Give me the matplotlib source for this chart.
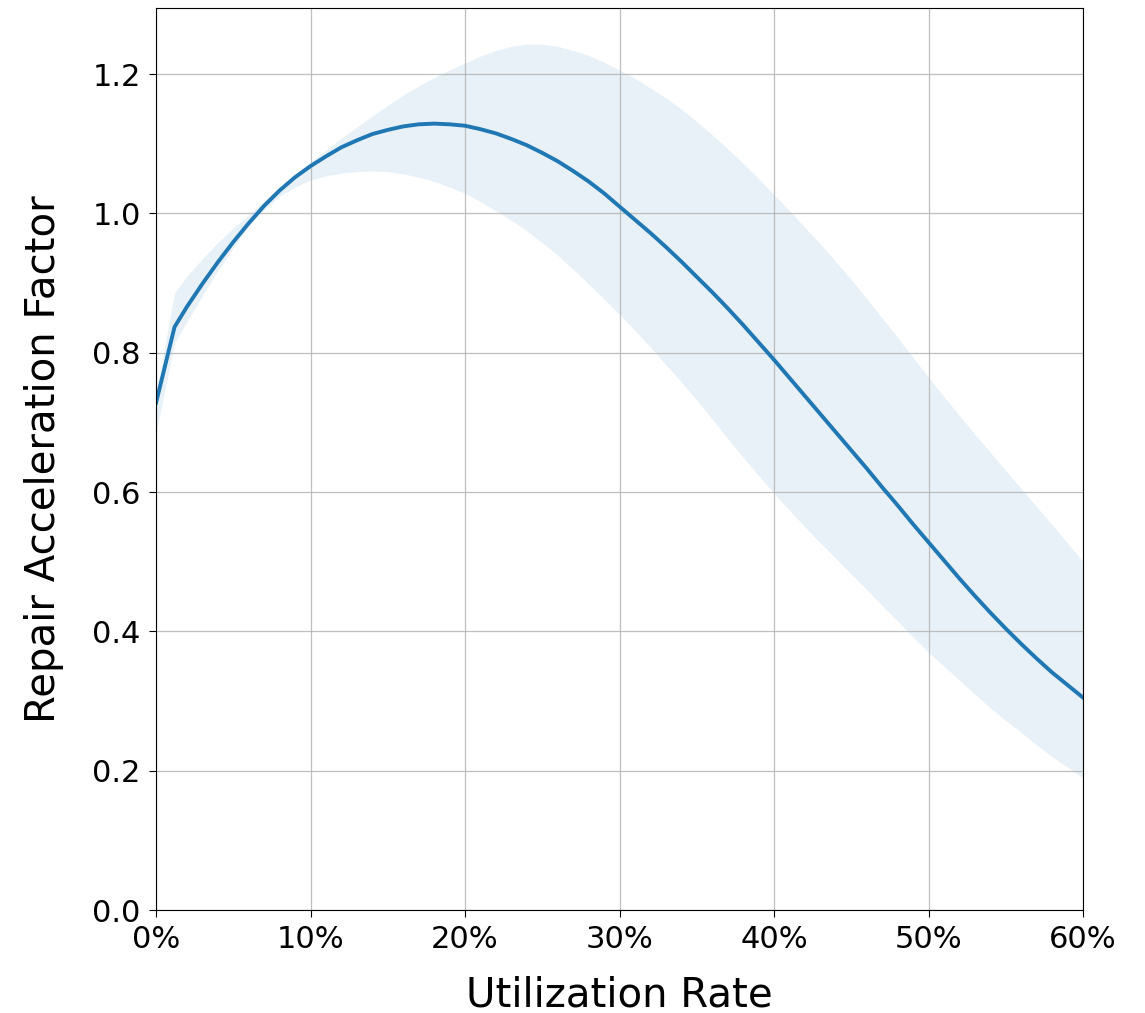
import matplotlib
matplotlib.use("Agg")
import matplotlib.pyplot as plt
from matplotlib.ticker import PercentFormatter

# utilization rate (fraction) and values
util = [0.0, 0.012, 0.02, 0.03, 0.04, 0.05, 0.06, 0.07, 0.08, 0.09, 0.10,
        0.11, 0.12, 0.13, 0.14, 0.15, 0.16, 0.17, 0.18, 0.19, 0.20,
        0.21, 0.22, 0.23, 0.24, 0.25, 0.26, 0.27, 0.28, 0.29, 0.30,
        0.31, 0.32, 0.33, 0.34, 0.35, 0.36, 0.37, 0.38, 0.39, 0.40,
        0.41, 0.42, 0.43, 0.44, 0.45, 0.46, 0.47, 0.48, 0.49, 0.50,
        0.51, 0.52, 0.53, 0.54, 0.55, 0.56, 0.57, 0.58, 0.59, 0.60]

factor = [0.728, 0.837, 0.866, 0.899, 0.930, 0.959, 0.986, 1.011, 1.033, 1.052, 1.068,
          1.082, 1.095, 1.105, 1.114, 1.120, 1.125, 1.128, 1.129, 1.128, 1.126,
          1.121, 1.115, 1.107, 1.098, 1.087, 1.075, 1.061, 1.046, 1.029, 1.010,
          0.991, 0.972, 0.952, 0.931, 0.909, 0.887, 0.864, 0.840, 0.815, 0.790,
          0.764, 0.738, 0.712, 0.686, 0.660, 0.634, 0.607, 0.581, 0.554, 0.528,
          0.502, 0.476, 0.451, 0.427, 0.404, 0.382, 0.361, 0.341, 0.323, 0.305]

upper = [0.740, 0.886, 0.910, 0.935, 0.958, 0.979, 0.998, 1.018, 1.037, 1.056, 1.074,
         1.091, 1.108, 1.124, 1.140, 1.155, 1.170, 1.183, 1.195, 1.206, 1.216,
         1.226, 1.234, 1.240, 1.243, 1.243, 1.240, 1.234, 1.227, 1.217, 1.206,
         1.194, 1.180, 1.166, 1.150, 1.132, 1.113, 1.093, 1.072, 1.050, 1.027,
         1.004, 0.980, 0.956, 0.931, 0.905, 0.878, 0.850, 0.822, 0.793, 0.765,
         0.737, 0.710, 0.683, 0.657, 0.631, 0.605, 0.579, 0.553, 0.527, 0.500]

lower = [0.685, 0.814, 0.845, 0.882, 0.918, 0.951, 0.982, 1.006, 1.025, 1.038, 1.048,
         1.054, 1.058, 1.060, 1.061, 1.060, 1.057, 1.052, 1.046, 1.038, 1.029,
         1.017, 1.004, 0.990, 0.975, 0.958, 0.940, 0.920, 0.899, 0.877, 0.855,
         0.832, 0.808, 0.783, 0.758, 0.732, 0.705, 0.677, 0.650, 0.624, 0.598,
         0.574, 0.550, 0.527, 0.505, 0.482, 0.460, 0.437, 0.415, 0.392, 0.370,
         0.350, 0.330, 0.310, 0.290, 0.272, 0.255, 0.237, 0.220, 0.205, 0.190]

fig = plt.figure(figsize=(11.45, 10.13), dpi=100)
ax = fig.add_axes([156 / 1145, 1 - 910 / 1013, 927 / 1145, 902 / 1013])

ax.fill_between(util, lower, upper, color="#1f77b4", alpha=0.1, linewidth=0)
ax.plot(util, factor, color="#1f77b4", linewidth=2.8)

ax.set_xlim(0, 0.6)
ax.set_ylim(0, 1.295)
ax.xaxis.set_major_formatter(PercentFormatter(xmax=1, decimals=0))
ax.grid(True, color="#b0b0b0", linewidth=0.9, alpha=0.8)
ax.tick_params(labelsize=22, length=5, pad=6)

ax.set_xlabel("Utilization Rate", fontsize=29, labelpad=15)
ax.set_ylabel("Repair Acceleration Factor", fontsize=29, labelpad=20)

fig.savefig("out.png", dpi=100)
